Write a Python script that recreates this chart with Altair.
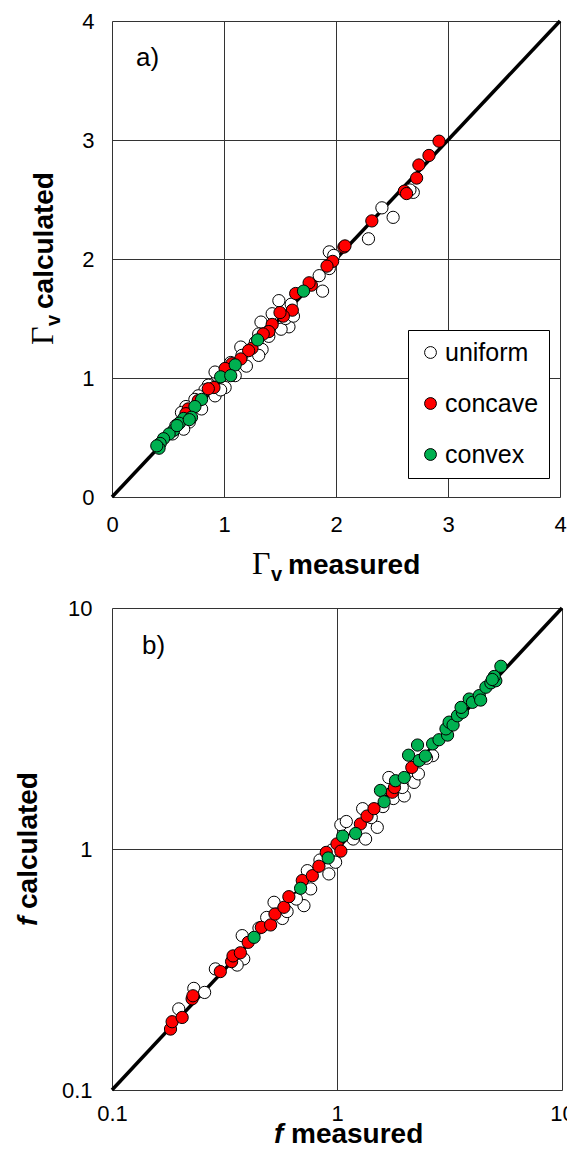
import altair as alt
import pandas as pd

# ---------------- panel a) data (Gamma_v measured vs calculated) ----------------
a_uniform_x = [2.69, 2.66, 2.41, 2.51, 2.29, 1.94, 1.98, 1.94, 1.85, 1.88, 1.49, 1.43, 1.58, 1.51,
               1.33, 1.31, 1.28, 1.34, 1.15, 1.16, 1.31, 1.06, 1.03, 1.01, 0.94, 0.92, 0.86, 0.83,
               0.92, 0.77, 0.74, 0.71, 0.66, 0.69, 0.62, 0.64, 0.60, 0.54, 0.57, 1.20, 1.10, 1.40,
               1.55, 1.62, 0.80, 0.97, 1.60]
a_uniform_y = [2.56, 2.58, 2.43, 2.35, 2.17, 2.06, 2.03, 1.92, 1.86, 1.73, 1.65, 1.54, 1.43, 1.41,
               1.47, 1.37, 1.30, 1.24, 1.26, 1.19, 1.19, 1.13, 1.08, 0.92, 1.02, 1.05, 0.94, 0.90,
               0.85, 0.85, 0.82, 0.74, 0.76, 0.63, 0.71, 0.57, 0.62, 0.53, 0.60, 1.10, 1.02, 1.35,
               1.50, 1.52, 0.74, 0.90, 1.62]
a_concave_x = [2.92, 2.83, 2.74, 2.72, 2.61, 2.63, 2.32, 2.07, 2.08, 1.97, 1.92, 1.78, 1.76, 1.64,
               1.61, 1.53, 1.50, 1.43, 1.40, 1.35, 1.25, 1.22, 1.15, 1.07, 1.01, 0.91, 0.86, 0.77,
               0.68, 0.66]
a_concave_y = [2.99, 2.87, 2.79, 2.68, 2.57, 2.55, 2.32, 2.10, 2.11, 1.98, 1.94, 1.78, 1.80, 1.71,
               1.57, 1.52, 1.55, 1.45, 1.39, 1.37, 1.25, 1.23, 1.16, 1.12, 1.08, 0.92, 0.91, 0.81,
               0.74, 0.70]
a_convex_x = [1.71, 1.30, 1.10, 0.97, 1.06, 0.80, 0.74, 0.64, 0.60, 0.55, 0.51, 0.46, 0.43, 0.42,
              0.40, 0.71, 0.69, 0.58]
a_convex_y = [1.73, 1.32, 1.11, 1.01, 1.02, 0.82, 0.76, 0.66, 0.62, 0.56, 0.53, 0.49, 0.45, 0.41,
              0.43, 0.67, 0.65, 0.60]

# ---------------- panel b) data (f measured vs calculated) ----------------
b_uniform_x = [0.198, 0.231, 0.258, 0.288, 0.379, 0.385, 0.360, 0.487, 0.525, 0.572, 0.600, 0.713,
               0.764, 0.738, 0.840, 0.920, 0.986, 0.950, 1.04, 1.10, 1.18, 1.30, 1.34, 1.51, 1.42,
               1.70, 1.78, 1.99, 1.95, 2.20, 2.30, 2.66, 2.50, 0.45, 0.66, 1.60]
b_uniform_y = [0.217, 0.264, 0.254, 0.318, 0.437, 0.350, 0.330, 0.520, 0.601, 0.515, 0.550, 0.582,
               0.683, 0.813, 0.900, 0.788, 0.881, 0.990, 1.26, 1.30, 1.10, 1.47, 1.10, 1.23, 1.35,
               1.98, 1.62, 1.66, 1.80, 1.89, 2.05, 2.44, 2.38, 0.47, 0.62, 1.50]
b_concave_x = [0.182, 0.185, 0.205, 0.227, 0.229, 0.303, 0.340, 0.345, 0.372, 0.403, 0.461, 0.507,
               0.530, 0.581, 0.611, 0.701, 0.777, 0.831, 0.896, 1.00, 1.04, 1.27, 1.36, 1.46, 1.76,
               1.80, 2.15]
b_concave_y = [0.179, 0.192, 0.200, 0.239, 0.246, 0.310, 0.341, 0.360, 0.371, 0.410, 0.473, 0.484,
               0.537, 0.573, 0.634, 0.740, 0.775, 0.848, 0.968, 1.05, 0.98, 1.27, 1.37, 1.47, 1.72,
               1.80, 2.18]
b_convex_x = [0.428, 0.689, 0.914, 1.06, 1.21, 1.56, 1.62, 1.82, 1.99, 2.08, 2.28, 2.32, 2.47, 2.66,
              2.84, 3.10, 3.05, 3.15, 3.28, 3.43, 3.61, 3.56, 3.87, 4.00, 4.29, 4.35, 4.59, 4.83,
              5.08, 5.00, 4.90, 5.35]
b_convex_y = [0.430, 0.687, 0.918, 1.13, 1.16, 1.75, 1.57, 1.92, 1.98, 2.45, 2.70, 2.33, 2.43, 2.73,
              2.84, 2.97, 3.15, 3.36, 3.27, 3.57, 3.69, 3.87, 4.19, 4.06, 4.33, 4.15, 4.69, 4.89,
              4.99, 5.20, 5.05, 5.73]

categories = ["uniform", "concave", "convex"]
cat_fills = ["#FFFFFF", "#FF0000", "#00B050"]

FONT = "Liberation Sans"
SERIF = "Liberation Serif"


def points_df(ux, uy, cx, cy, vx, vy):
    rows = []
    for t, xs, ys in (("uniform", ux, uy), ("concave", cx, cy), ("convex", vx, vy)):
        for a, b in zip(xs, ys):
            rows.append({"x": a, "y": b, "type": t})
    return pd.DataFrame(rows)


one = pd.DataFrame({"k": [0]})


def txt(s, x, y, size, font=FONT, weight="normal", style="normal", angle=0, align="left"):
    return alt.Chart(one).mark_text(
        text=s, font=font, fontSize=size, fontWeight=weight, fontStyle=style,
        angle=angle, align=align, baseline="alphabetic", color="black"
    ).encode(x=alt.value(x), y=alt.value(y))


def axis(values, fmt, pad):
    return dict(values=values, title=None, grid=True, gridColor="#333333", gridWidth=1,
                gridOpacity=1, domain=False, ticks=False, labelFont=FONT, labelFontSize=22,
                labelColor="black", labelPadding=pad, labelFlush=False, labelOverlap=False,
                format=fmt)


fill_scale = alt.Scale(domain=categories, range=cat_fills)
PT_SIZE = 150

# ---------------- panel a ----------------
WA, HA = 448, 476
da = points_df(a_uniform_x, a_uniform_y, a_concave_x, a_concave_y, a_convex_x, a_convex_y)
line_a = pd.DataFrame({"x": [0, 4], "y": [0, 4]})
xa = alt.Scale(domain=[0, 4], nice=False)
ya = alt.Scale(domain=[0, 4], nice=False)

la = alt.Chart(line_a).mark_line(color="black", strokeWidth=3.5).encode(
    x=alt.X("x:Q", scale=xa, axis=alt.Axis(**axis([0, 1, 2, 3, 4], "d", 17))),
    y=alt.Y("y:Q", scale=ya, axis=alt.Axis(**axis([0, 1, 2, 3, 4], "d", 18))),
)
pa = alt.Chart(da).mark_circle(size=PT_SIZE, opacity=1, stroke="black", strokeWidth=1).encode(
    x="x:Q", y="y:Q",
    fill=alt.Fill("type:N", scale=fill_scale, legend=alt.Legend(
        orient="none", legendX=296, legendY=309, title=None, symbolType="circle",
        symbolSize=140, symbolStrokeColor="black", symbolStrokeWidth=1, symbolOpacity=1,
        labelFont=FONT, labelFontSize=25, labelColor="black", labelOffset=2, rowPadding=25,
        padding=10, strokeColor="black", fillColor="white", cornerRadius=0)),
)

ytA = 324
YTX = -59
top = alt.layer(
    la, pa,
    txt("a)", 24, 45, 26),
    txt("\u0393", YTX, ytA, 32, font=SERIF, angle=270),
    txt("v", YTX + 7, ytA - 19, 20, weight="bold", angle=270),
    txt("calculated", YTX, ytA - 36, 28, weight="bold", angle=270),
    txt("\u0393", 140, HA + 77, 32, font=SERIF),
    txt("v", 159, HA + 84, 20, weight="bold"),
    txt("measured", 176, HA + 77, 28, weight="bold"),
).properties(width=WA, height=HA)

# ---------------- panel b ----------------
WB, HB = 450, 482
db = points_df(b_uniform_x, b_uniform_y, b_concave_x, b_concave_y, b_convex_x, b_convex_y)
line_b = pd.DataFrame({"x": [0.1, 10], "y": [0.1, 10]})
xb = alt.Scale(type="log", domain=[0.1, 10], nice=False)
yb = alt.Scale(type="log", domain=[0.1, 10], nice=False)

lb = alt.Chart(line_b).mark_line(color="black", strokeWidth=3.5).encode(
    x=alt.X("x:Q", scale=xb, axis=alt.Axis(**axis([0.1, 1, 10], "~g", 13))),
    y=alt.Y("y:Q", scale=yb, axis=alt.Axis(**axis([0.1, 1, 10], "~g", 20))),
)
pb = alt.Chart(db).mark_circle(size=PT_SIZE, opacity=1, stroke="black", strokeWidth=1).encode(
    x="x:Q", y="y:Q",
    fill=alt.Fill("type:N", scale=fill_scale, legend=None),
)

ytB = 853 - 612 + 77
bottom = alt.layer(
    lb, pb,
    txt("b)", 30, 46, 26),
    txt("f", -75, ytB, 28, weight="bold", style="italic", angle=270),
    txt("calculated", -75, ytB - 17, 28, weight="bold", angle=270),
    txt("f", 162, HB + 53, 28, weight="bold", style="italic"),
    txt("measured", 179, HB + 53, 28, weight="bold"),
).properties(width=WB, height=HB)

chart = alt.vconcat(top, bottom, spacing=10).resolve_scale(
    fill="independent", x="independent", y="independent"
).properties(
    padding={"left": 6, "top": 1, "right": -8, "bottom": 0}
).configure_view(stroke="#333333", strokeWidth=1.5).configure(background="white")

chart.save("out.html", embed_options={"renderer": "svg", "actions": False})
